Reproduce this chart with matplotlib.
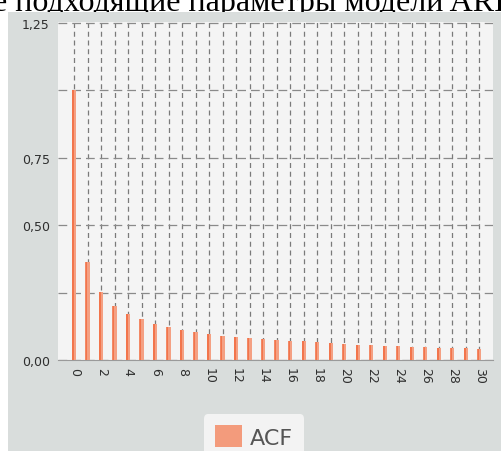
import matplotlib.pyplot as plt
from matplotlib.patches import Rectangle, Patch

# ACF values
lags = list(range(31))
acf = [1.0, 0.365, 0.253, 0.200, 0.171, 0.152, 0.134, 0.122, 0.113, 0.103,
       0.097, 0.090, 0.084, 0.081, 0.078, 0.075, 0.071, 0.069, 0.066, 0.063,
       0.060, 0.057, 0.055, 0.052, 0.051, 0.048, 0.047, 0.046, 0.045, 0.043,
       0.041]
ytick_vals = [0.0, 0.25, 0.5, 0.75, 1.0, 1.25]
ytick_labels = ["0,00", "", "0,50", "0,75", "", "1,25"]
title_text = "е подходящие параметры модели ARIMA"

fig = plt.figure(figsize=(5.02, 4.52), dpi=100)
fig.patch.set_facecolor("white")

# grey panel behind the chart (covers the bottom of the document line)
fig.patches.append(Rectangle((8 / 502, 0), 1, 1 - 13 / 452, transform=fig.transFigure,
                             facecolor="#d9dddc", edgecolor="none", zorder=-5))

# cut-off line of document text above the chart
fig.text(-0.014, 1 - 11 / 452, title_text, family="Liberation Serif", fontsize=23,
         color="black", va="baseline", ha="left", zorder=-10)

ax = fig.add_axes([58 / 502, 1 - 361 / 452, 435 / 502, 338 / 452])
ax.set_facecolor("#f4f4f4")

ax.bar(lags, acf, width=0.27, color="#f4a083", edgecolor="none", zorder=3)
ax.vlines([x - 0.1 for x in lags], 0, acf, color="#f2693c", lw=1.1, zorder=4)

ax.set_xlim(-1.2, 31.0)
ax.set_ylim(0, 1.254)

ax.set_xticks(lags)
ax.set_xticklabels([str(x) if x % 2 == 0 else "" for x in lags], rotation=270,
                   fontsize=9, color="#2e2e2e")
ax.set_yticks(ytick_vals)
ax.set_yticklabels(ytick_labels, fontsize=9, color="#2e2e2e")
ax.tick_params(length=0, pad=6)
ax.tick_params(axis="x", pad=5)

ax.grid(True, axis="x", color="#7a7a7a", linestyle=(0, (4, 3)), lw=0.9, zorder=1)
ax.grid(True, axis="y", color="#8a8a8a", linestyle=(0, (7, 4)), lw=0.9, zorder=1)

for s in ["top", "right", "left"]:
    ax.spines[s].set_visible(False)
ax.spines["bottom"].set_color("#9a9a9a")
ax.spines["bottom"].set_linewidth(0.8)

leg = fig.legend(handles=[Patch(facecolor="#f39b7c", edgecolor="none", label="ACF")],
                 loc="upper center", bbox_to_anchor=(254 / 502, 1 - 404 / 452),
                 fontsize=16, frameon=True, fancybox=True, handlelength=1.25,
                 handleheight=1.15, handletextpad=0.35, borderpad=0.5,
                 labelcolor="#555555")
leg.get_frame().set_facecolor("#f3f3f3")
leg.get_frame().set_edgecolor("none")
leg.get_frame().set_alpha(1)

fig.savefig("out.png", dpi=100)
